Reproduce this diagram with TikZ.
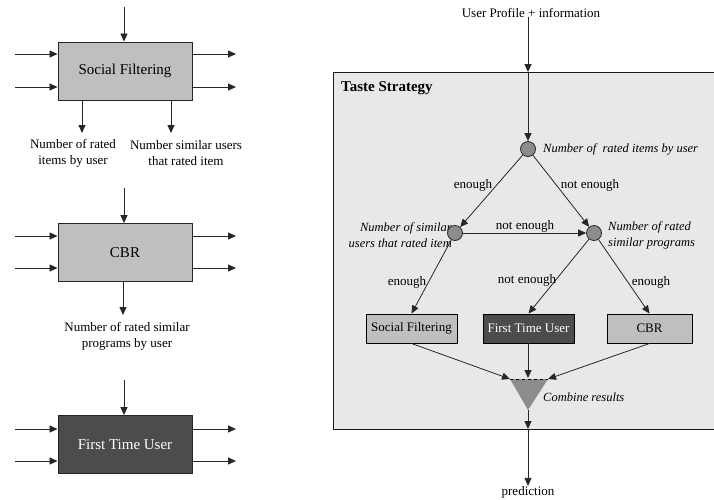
\documentclass[tikz,border=0pt]{standalone}
\usepackage{fontspec}
\setmainfont{Liberation Serif}
\usetikzlibrary{arrows.meta,calc}
\begin{document}
\begin{tikzpicture}[x=1pt,y=-1pt,
  arr/.style={draw=black!85,line width=0.8pt,-{Triangle[length=8pt,width=7pt]}},
  bigbox/.style={draw=black!85,line width=0.9pt,fill=black!25,minimum width=134pt,minimum height=58pt,inner sep=0pt,font=\fontsize{15}{16}\selectfont},
  darkbox/.style={bigbox,fill=black!70,text=white},
  smallbox/.style={draw=black,line width=0.9pt,fill=black!25,minimum width=91pt,minimum height=29pt,inner sep=0pt,font=\fontsize{13}{14}\selectfont},
  lab/.style={font=\fontsize{13}{16}\selectfont,align=center,inner sep=0pt},
  ilab/.style={font=\fontsize{12.5}{16}\selectfont\itshape,inner sep=0pt},
  dot/.style={circle,draw=black!85,line width=0.8pt,fill=black!45,minimum size=15pt,inner sep=0pt}
]
\useasboundingbox (0,0) rectangle (714,499);

% ---------- left column ----------
\node[bigbox] (b1) at (125,71) {Social Filtering};
\node[bigbox] (b2) at (125,252.5) {CBR};
\node[darkbox] (b3) at (125,444.5) {First Time User};

\foreach \b/\t/\ya/\yb in {b1/7/54/87, b2/188/236/268, b3/380/429/461}{
  \coordinate (\b top) at (124,\t);
  \draw[arr] (\b top) -- (\b top |- \b.north);
  \coordinate (\b ia) at (15,\ya);
  \coordinate (\b ib) at (15,\yb);
  \draw[arr] (\b ia) -- (\b ia -| \b.west);
  \draw[arr] (\b ib) -- (\b ib -| \b.west);
  \coordinate (\b oa) at (236,\ya);
  \coordinate (\b ob) at (236,\yb);
  \draw[arr] (\b oa -| \b.east) -- (\b oa);
  \draw[arr] (\b ob -| \b.east) -- (\b ob);
}

\node[lab] (l1) at (73,153.5) {Number of rated\\items by user};
\node[lab] (l2) at (186,153.5) {Number similar users\\that rated item};
\node[lab] (l3) at (127,336) {Number of rated similar\\programs by user};
\coordinate (o1) at (82,133);
\coordinate (o2) at (171,133);
\coordinate (o3) at (123,315);
\draw[arr] (o1 |- b1.south) -- (o1);
\draw[arr] (o2 |- b1.south) -- (o2);
\draw[arr] (o3 |- b2.south) -- (o3);

% ---------- right: Taste Strategy ----------
\fill[black!9] (333,72) rectangle (714,429);
\draw[black!90,line width=0.9pt] (714,72) -- (333,72) -- (333,429) -- (714,429);
\node[font=\fontsize{15}{17}\selectfont\bfseries,anchor=west,inner sep=0pt] (title) at (341,88) {Taste Strategy};

\node[lab] (up) at (531,13) {User Profile + information};
\coordinate (ptop) at (528,72);
\coordinate (pbot) at (528,429);

\node[ilab,anchor=west] (c1l) at (543,149) {Number of\ \ rated items by user};
\node[ilab,anchor=east,align=right] (c2l) at (452,235) {Number of similar\\users that rated item};
\node[ilab,anchor=west,align=left] (c3l) at (608,235) {Number of rated\\similar programs};

\node[dot] (c1) at (528,149) {};
\node[dot] (c2) at (455,233) {};
\node[dot] (c3) at (594,233) {};

\node[smallbox] (sf) at (411.5,328.5) {Social Filtering};
\node[smallbox,fill=black!70,text=white] (ftu) at (528.5,328.5) {First Time User};
\node[smallbox,minimum width=85pt] (cbr) at (649.5,328.5) {CBR};

\draw[arr] (up.south -| ptop) ++(0,-1) -- (ptop);
\draw[arr] (ptop) -- (c1);
\draw[arr] (c1) -- (c2);
\draw[arr] (c1) -- (c3);
\draw[arr] (c2) -- (c3);
\draw[arr] (c2) -- (sf.north);
\draw[arr] (c3) -- (ftu.north);
\draw[arr] (c3) -- (cbr.north);

\node[lab] (e1) at (473,185) {enough};
\node[lab] (e2) at (590,185) {not enough};
\node[lab] (e3) at (525,226) {not enough};
\node[lab] (e4) at (407,282) {enough};
\node[lab] (e5) at (527,280) {not enough};
\node[lab] (e6) at (651,282) {enough};

% combine triangle
\coordinate (tl) at (510,379);
\coordinate (tr) at (548,379);
\coordinate (ap) at (528,410);
\fill[black!45] (tl) -- (tr) -- (ap) -- cycle;
\draw[dashed,line width=0.7pt] (tl) -- (tr);
\node[ilab,anchor=west] (comb) at (543,397) {Combine results};

\draw[arr] (sf.south) -- (tl);
\draw[arr] (ftu.south -| ap) -- (528,378);
\draw[arr] (cbr.south) -- (tr);

\node[lab] (pred) at (528,492) {prediction};
\draw[arr] (ap) -- (pbot);
\draw[arr] (pbot) -- (pred.north);
\end{tikzpicture}
\end{document}
